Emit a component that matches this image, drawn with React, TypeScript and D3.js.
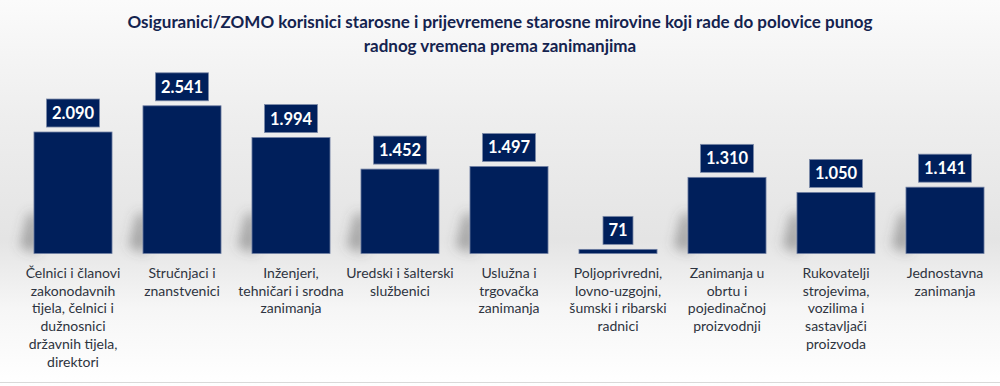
import React from 'react';
import * as d3 from 'd3';

const categories = [
  'Čelnici i članovi zakonodavnih tijela, čelnici i dužnosnici državnih tijela, direktori',
  'Stručnjaci i znanstvenici',
  'Inženjeri, tehničari i srodna zanimanja',
  'Uredski i šalterski službenici',
  'Uslužna i trgovačka zanimanja',
  'Poljoprivredni, lovno-uzgojni, šumski i ribarski radnici',
  'Zanimanja u obrtu i pojedinačnoj proizvodnji',
  'Rukovatelji strojevima, vozilima i sastavljači proizvoda',
  'Jednostavna zanimanja',
];

const values = [2090, 2541, 1994, 1452, 1497, 71, 1310, 1050, 1141];

const valueLabels = ['2.090', '2.541', '1.994', '1.452', '1.497', '71', '1.310', '1.050', '1.141'];

const tickLines = [
  ['Čelnici i članovi', 'zakonodavnih', 'tijela, čelnici i', 'dužnosnici', 'državnih tijela,', 'direktori'],
  ['Stručnjaci i', 'znanstvenici'],
  ['Inženjeri,', 'tehničari i srodna', 'zanimanja'],
  ['Uredski i šalterski', 'službenici'],
  ['Uslužna i', 'trgovačka', 'zanimanja'],
  ['Poljoprivredni,', 'lovno-uzgojni,', 'šumski i ribarski', 'radnici'],
  ['Zanimanja u', 'obrtu i', 'pojedinačnoj', 'proizvodnji'],
  ['Rukovatelji', 'strojevima,', 'vozilima i', 'sastavljači', 'proizvoda'],
  ['Jednostavna', 'zanimanja'],
];

const titleLines = [
  'Osiguranici/ZOMO korisnici starosne i prijevremene starosne mirovine koji rade do polovice punog',
  'radnog vremena prema zanimanjima',
];

const W = 1000;
const H = 386;
const baseY = 253.5;
const navy = '#001f5b';
const font = 'Lato, "Open Sans", sans-serif';

export default function App() {
  const x = d3
    .scaleBand()
    .domain(categories)
    .range([18.5, 999.5])
    .paddingInner(0.284)
    .paddingOuter(0.142);

  const y = d3.scaleLinear().domain([0, 2541]).range([baseY, 105.8]);

  return (
    <svg width={W} height={H} style={{ position: 'absolute', left: 0, top: 0 }}>
      <defs>
        <linearGradient id="bg" x1="0" y1="0" x2="0" y2="1">
          <stop offset="0" stopColor="#fbfbfb" />
          <stop offset="0.3" stopColor="#eeeeee" />
          <stop offset="0.62" stopColor="#e4e4e4" />
          <stop offset="0.8" stopColor="#f6f6f6" />
          <stop offset="1" stopColor="#ffffff" />
        </linearGradient>
        <filter id="blur" x="-50%" y="-50%" width="200%" height="200%">
          <feGaussianBlur stdDeviation="6" />
        </filter>
      </defs>
      <rect x={0} y={0} width={W} height={H} fill="url(#bg)" />
      <line x1={0} x2={W} y1={382.5} y2={382.5} stroke="#d9d9d9" />

      <g fontFamily={font} fontWeight="bold" fill="#14234f" textAnchor="middle" fontSize={17}>
        {titleLines.map((t, i) => (
          <text key={i} x={500} y={28 + i * 24}>
            {t}
          </text>
        ))}
      </g>

      {/* soft shadows */}
      <g filter="url(#blur)">
        {categories.map((c, i) => {
          const h = Math.min(baseY - y(values[i]), 40);
          if (values[i] < 200) return null;
          return (
            <path
              key={c}
              d={`M${x(c)! + 4},${baseY} L${x(c)! - 14},${baseY - 6} L${x(c)! - 6},${baseY - h} L${x(c)! + 4},${baseY - h} Z`}
              fill="#555"
              opacity={0.45}
            />
          );
        })}
      </g>

      {categories.map((c, i) => {
        const bx = x(c)!;
        const bw = x.bandwidth();
        const top = y(values[i]);
        const cx = bx + bw / 2;
        const boxW = valueLabels[i].length > 2 ? 53 : 30;
        const boxH = 28;
        const boxY = top - 5 - boxH;
        return (
          <g key={c}>
            <rect x={bx} y={top} width={bw} height={baseY - top} fill={navy} stroke="#6f7fa3" strokeWidth={0.8} />
            <rect x={cx - boxW / 2} y={boxY} width={boxW} height={boxH} fill={navy} stroke="#7c8aa8" strokeWidth={0.8} />
            <text
              x={cx}
              y={boxY + boxH / 2 + 6}
              textAnchor="middle"
              fill="#ffffff"
              fontFamily={font}
              fontWeight="bold"
              fontSize={16.5}
            >
              {valueLabels[i]}
            </text>
            <g fontFamily={font} fontSize={14} fill="#2e3440" textAnchor="middle">
              {tickLines[i].map((l, j) => (
                <text key={j} x={cx} y={278 + j * 17.7}>
                  {l}
                </text>
              ))}
            </g>
          </g>
        );
      })}
    </svg>
  );
}
